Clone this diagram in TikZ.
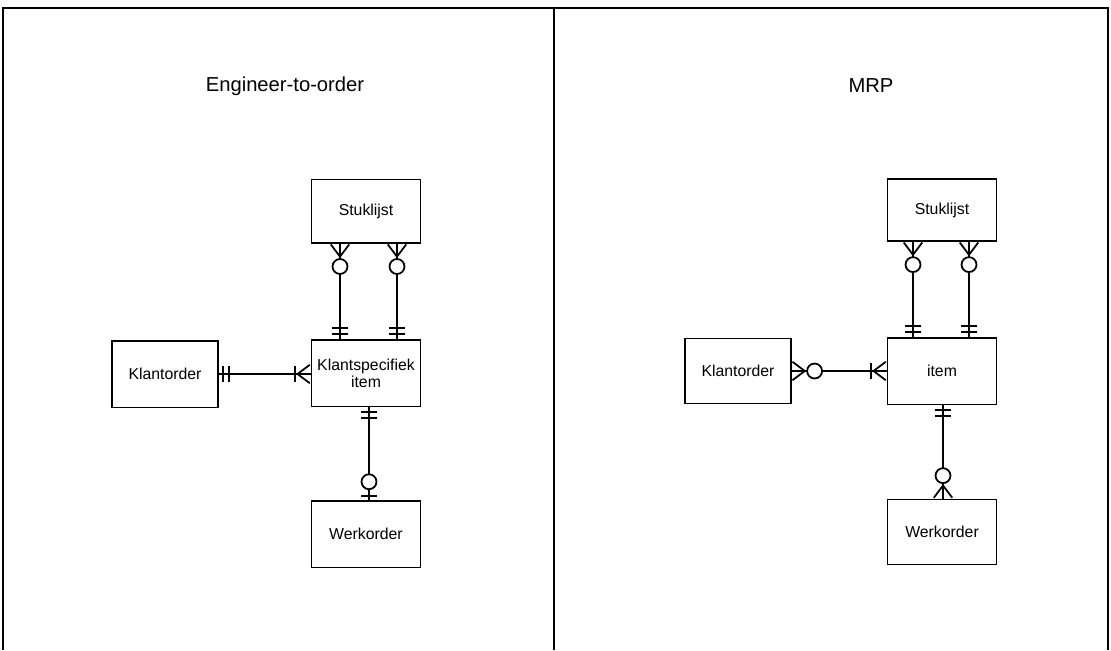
\documentclass[tikz,border=0pt]{standalone}
\usepackage{fontspec}
\setmainfont{Liberation Sans}
\usetikzlibrary{arrows.meta,calc}
\tikzset{
  erbox/.style={draw, line width=1pt, minimum width=62pt, minimum height=37pt,
    align=center, inner sep=2pt, font=\fontsize{9}{9.8}\selectfont},
  titel/.style={font=\fontsize{11.5}{13}\selectfont},
  frame/.style={line width=1pt},
  erline/.style={line width=1pt, preaction={draw, line width=1pt, arrows=-, shorten <=0pt, shorten >=0pt}},
  Crow/.tip={Straight Barb[reversed, length=7pt, width=10.5pt]},
  Ring/.tip={Circle[fill=white, length=9.5pt]},
  RingGap/.tip={Circle[fill=white, length=9.5pt, sep=3pt]},
  One/.tip={Bar[width=9.5pt]},
  Two/.tip={Bar[width=9.5pt, sep=2.5pt] Bar[width=9.5pt]},
}

\begin{document}
\begin{tikzpicture}[x=0.02cm, y=-0.02cm]
  \useasboundingbox (0,0) rectangle (1111,650);
  % frame
  \draw[frame] (3,650) -- (3,8) -- (1108,8) -- (1108,650);
  \draw[frame] (554,8) -- (554,650);

  % Engineer-to-order
  \node[titel] (etoT) at (285,86) {Engineer-to-order};
  \node[erbox, minimum height=36pt] (stukL) at (366,211) {Stuklijst};
  \node[erbox, minimum height=38pt] (itemL) at (366,373) {Klantspecifiek\\item};
  \node[erbox, minimum width=60pt, minimum height=38pt] (klantL) at (165,374) {Klantorder};
  \node[erbox, minimum height=38pt] (werkL) at (366,534) {Werkorder};
  \draw[erline, {Two[]}-{Ring[] Crow[]}, shorten <=2pt] ($(itemL.north)+(-26,0)$) -- ($(stukL.south)+(-26,0)$);
  \draw[erline, {Two[]}-{Ring[] Crow[]}, shorten <=2pt] ($(itemL.north)+(31,0)$) -- ($(stukL.south)+(31,0)$);
  \draw[erline, {Two[]}-{One[] Crow[]}, shorten <=2pt] (klantL.east) -- (klantL.east -| itemL.west);
  \draw[erline, {Two[]}-{RingGap[] One[]}, shorten <=2pt, shorten >=1.5pt] ($(itemL.south)+(3,0)$) -- ($(werkL.north)+(3,0)$);

  % MRP
  \node[titel] (mrpT) at (871,86) {MRP};
  \node[erbox, minimum height=35pt] (stukR) at (942,210) {Stuklijst};
  \node[erbox, minimum height=38pt] (itemR) at (942,371) {item};
  \node[erbox, minimum width=60pt, minimum height=37pt] (klantR) at (738,371) {Klantorder};
  \node[erbox, minimum height=37pt] (werkR) at (942,532) {Werkorder};
  \draw[erline, {Two[]}-{Ring[] Crow[]}, shorten <=2pt] ($(itemR.north)+(-29,0)$) -- ($(stukR.south)+(-29,0)$);
  \draw[erline, {Two[]}-{Ring[] Crow[]}, shorten <=2pt] ($(itemR.north)+(27,0)$) -- ($(stukR.south)+(27,0)$);
  \draw[erline, {Crow[] Ring[]}-{One[] Crow[]}] (klantR.east) -- (klantR.east -| itemR.west);
  \draw[erline, {Two[]}-{Ring[] Crow[]}, shorten <=2pt] ($(itemR.south)+(1,0)$) -- ($(werkR.north)+(1,0)$);
\end{tikzpicture}
\end{document}
